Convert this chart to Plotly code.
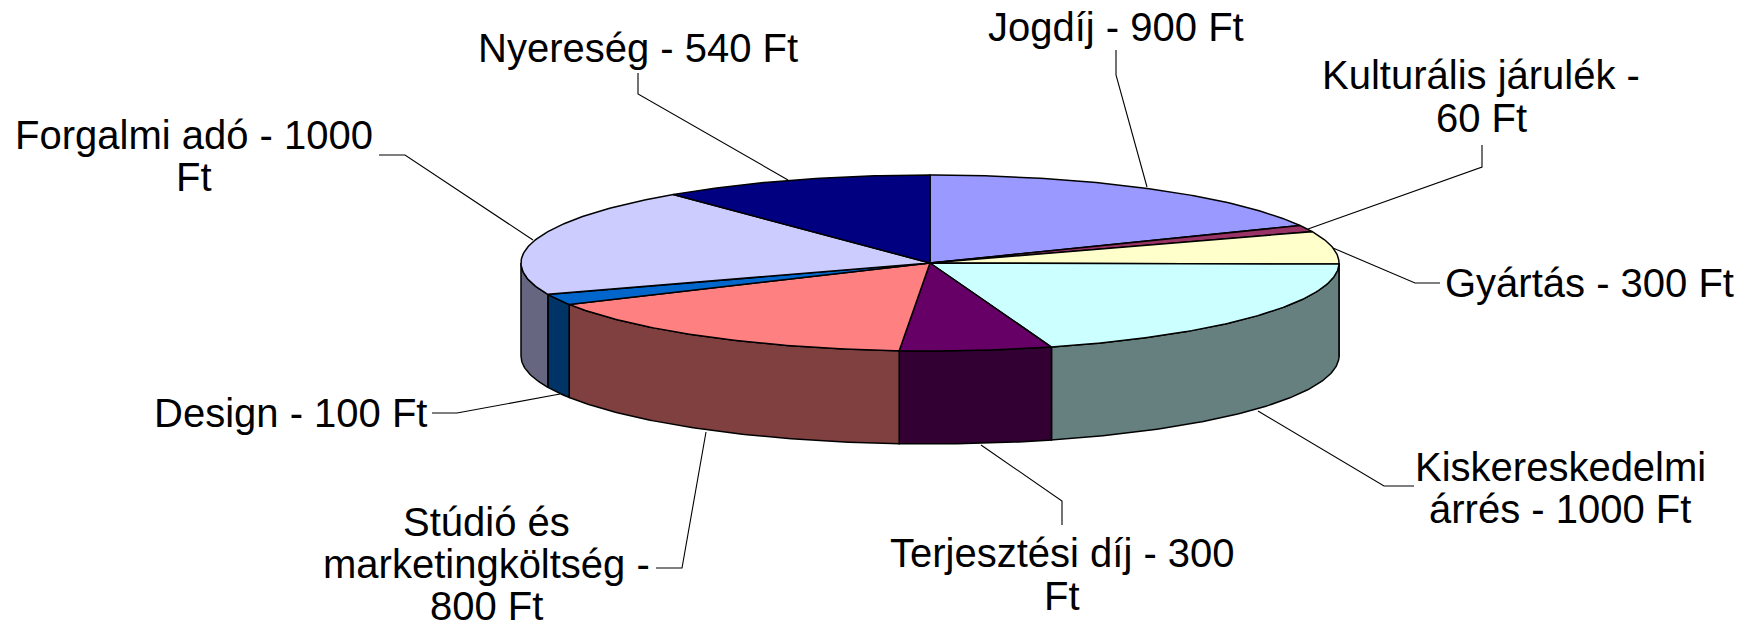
import numpy as np
import plotly.graph_objects as go

# ---- data -----------------------------------------------------------------
categories = ["Jogdíj", "Kulturális járulék", "Gyártás", "Kiskereskedelmi árrés",
              "Terjesztési díj", "Stúdió és marketingköltség", "Design",
              "Forgalmi adó", "Nyereség"]
values = [900, 60, 300, 1000, 300, 800, 100, 1000, 540]
top_colors = ["#9999FF", "#993366", "#FFFFCC", "#CCFFFF", "#660066",
              "#FF8080", "#0066CC", "#CCCCFF", "#000080"]
side_colors = ["#666699", "#662244", "#808066", "#668080", "#330033",
               "#804040", "#003366", "#666680", "#000040"]
label_lines = [["Jogdíj - 900 Ft"],
               ["Kulturális járulék -", "60 Ft"],
               ["Gyártás - 300 Ft"],
               ["Kiskereskedelmi", "árrés - 1000 Ft"],
               ["Terjesztési díj - 300", "Ft"],
               ["Stúdió és", "marketingköltség -", "800 Ft"],
               ["Design - 100 Ft"],
               ["Forgalmi adó - 1000", "Ft"],
               ["Nyereség - 540 Ft"]]

# ---- layout geometry (axis units equal page pixels) ------------------------
W, H = 1739, 628
CX, CY, RX, RY, DEPTH = 930, 263, 409, 88, 93
FONT_SIZE = 40
label_pos = [[(1116, 27)],
             [(1481, 75), (1481, 118)],
             [(1589, 283)],
             [(1560, 467), (1560, 509)],
             [(1062, 553), (1062, 596)],
             [(486, 522), (486, 564), (486, 606)],
             [(290, 413)],
             [(194, 135), (194, 177)],
             [(638, 48)]]
leaders = [[(1116, 50), (1116, 75), (1147, 187)],
           [(1482, 145), (1482, 167), (1308, 229)],
           [(1440, 283), (1415, 283), (1333, 248)],
           [(1414, 486), (1384, 486), (1258, 411)],
           [(1062, 525), (1062, 501), (981, 445)],
           [(656, 568), (682, 568), (706, 432)],
           [(432, 413), (457, 413), (560, 394)],
           [(379, 155), (405, 155), (533, 240)],
           [(638, 73), (638, 94), (788, 180)]]

# ---- build the projected pie from the values ------------------------------
frac = np.array(values, dtype=float) / sum(values)
edges = np.concatenate([[0.0], np.cumsum(frac)]) * 2 * np.pi


def rim(a0, a1, dy=0.0):
    t = np.linspace(a0, a1, max(3, int((a1 - a0) * 90)))
    return CX + RX * np.sin(t), CY - RY * np.cos(t) + dy


fig = go.Figure()
LINE = dict(color="black", width=1.5)

# visible outer wall: only the front half of the rim (90 to 270 degrees)
for i, name in enumerate(categories):
    a0, a1 = max(edges[i], np.pi / 2), min(edges[i + 1], 3 * np.pi / 2)
    if a1 <= a0:
        continue
    xt, yt = rim(a0, a1)
    xb, yb = rim(a0, a1, DEPTH)
    fig.add_trace(go.Scatter(
        x=np.r_[xt, xb[::-1], xt[0]], y=np.r_[yt, yb[::-1], yt[0]],
        mode="lines", fill="toself", fillcolor=side_colors[i], line=LINE,
        name=name, hoverinfo="skip", showlegend=False))

# top faces
for i, name in enumerate(categories):
    xt, yt = rim(edges[i], edges[i + 1])
    fig.add_trace(go.Scatter(
        x=np.r_[CX, xt, CX], y=np.r_[CY, yt, CY],
        mode="lines", fill="toself", fillcolor=top_colors[i], line=LINE,
        name=name, text=f"{name}: {values[i]} Ft", hoverinfo="text",
        showlegend=False))

# leader lines
for pts in leaders:
    fig.add_trace(go.Scatter(
        x=[p[0] for p in pts], y=[p[1] for p in pts], mode="lines",
        line=dict(color="black", width=1.1), hoverinfo="skip", showlegend=False))

# labels
for lines, poss in zip(label_lines, label_pos):
    for text, (x, y) in zip(lines, poss):
        fig.add_annotation(x=x, y=y, text=text, showarrow=False,
                           xanchor="center", yanchor="middle",
                           font=dict(family="Liberation Sans", size=FONT_SIZE, color="black"))

fig.update_layout(
    width=W, height=H, margin=dict(l=0, r=0, t=0, b=0),
    paper_bgcolor="white", plot_bgcolor="white", showlegend=False,
    xaxis=dict(range=[0, W], visible=False, fixedrange=True),
    yaxis=dict(range=[H, 0], visible=False, fixedrange=True),
)
fig.write_html("out.html", config={"displayModeBar": False},
               post_script="document.body.style.margin='0';")
